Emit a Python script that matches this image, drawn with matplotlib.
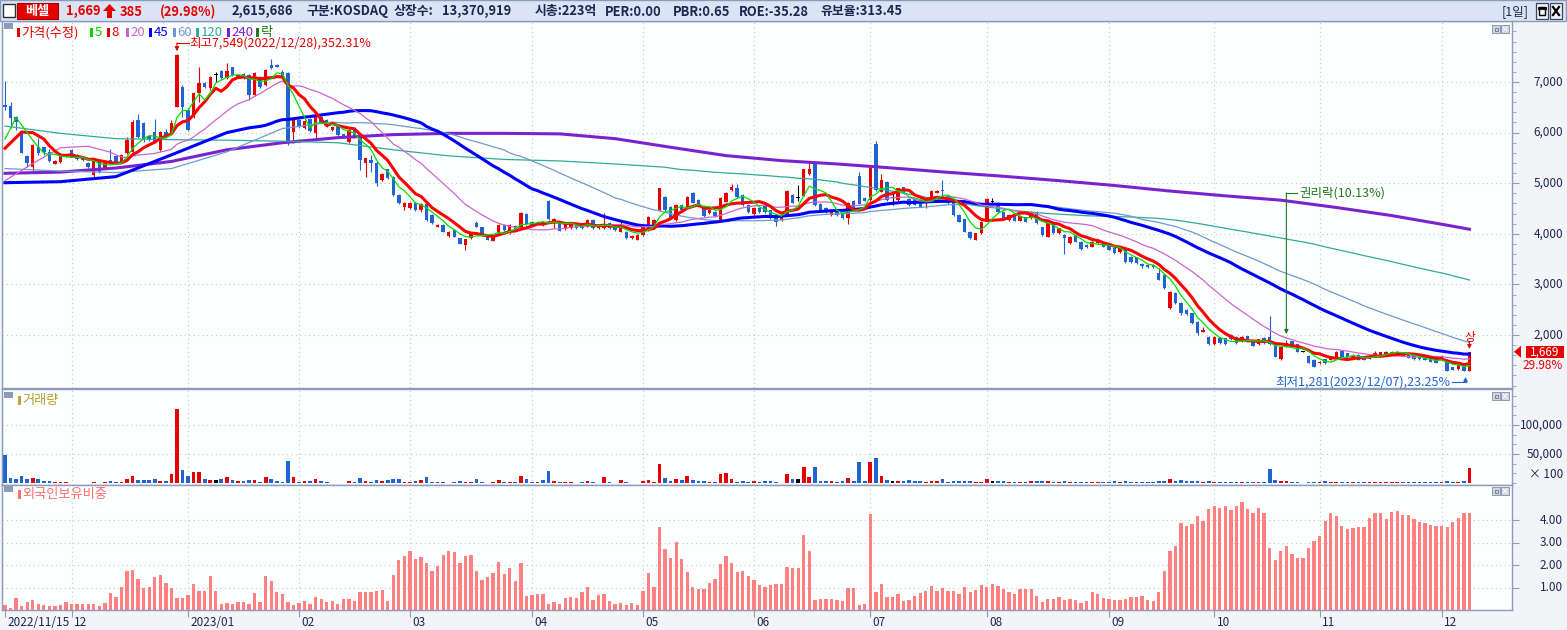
import numpy as np
import pandas as pd
import matplotlib
matplotlib.use('Agg')
import matplotlib.pyplot as plt
from matplotlib.patches import Rectangle, Polygon
from matplotlib.ticker import MultipleLocator
from matplotlib.transforms import blended_transform_factory as blend

plt.rcParams['font.family'] = ['Noto Sans CJK KR', 'DejaVu Sans']

W, H = 1567, 630
RED = '#e60000'
BLUE = '#1f64d2'
NAVY = '#1c2850'
FRAME = '#8a9cba'
GRID = '#c3c8d0'

# daily candles, 2022/11/15 .. 2023/12
OPEN = [
    6550, 6526, 6302, 6038, 5538, 5327, 5709, 5709, 5623, 5380,
    5426, 5525, 5656, 5557, 5492, 5406, 5162, 5426, 5294, 5459,
    5538, 5426, 5590, 5623, 6249, 6183, 5933, 6019, 5656, 6019,
    5986, 6513, 6908, 6447, 6315, 6776, 6974, 6875, 7140, 7224,
    7073, 7290, 7105, 7158, 7138, 6743, 7105, 6941, 7336, 7336,
    7204, 7171, 6019, 6249, 6085, 6262, 5999, 6315, 6249, 6052,
    6104, 5966, 5821, 6065, 5920, 5393, 5459, 5400, 5064, 5275,
    5130, 4767, 4537, 4504, 4616, 4471, 4590, 4372, 4142, 4175,
    3957, 4076, 3911, 3779, 3911, 4221, 4128, 3977, 3865, 4010,
    4175, 4010, 4155, 4109, 4392, 4240, 4207, 4240, 4649, 4230,
    4207, 4089, 4109, 4175, 4207, 4142, 4273, 4109, 4109, 4221,
    4142, 4043, 4043, 3911, 3878, 3977, 4076, 4142, 4471, 4734,
    4537, 4273, 4570, 4537, 4800, 4668, 4550, 4405, 4438, 4273,
    4636, 4866, 4899, 4767, 4570, 4392, 4504, 4550, 4471, 4326,
    4273, 4372, 4767, 4700, 4748, 5182, 5380, 4590, 4504, 4372,
    4471, 4405, 4306, 4655, 5149, 4715, 4668, 5775, 4833, 5031,
    4705, 4668, 4919, 4682, 4682, 4668, 4636, 4682, 4813, 4860,
    4748, 4682, 4372, 4286, 4043, 3878, 4010, 4273, 4636, 4590,
    4438, 4273, 4392, 4260, 4326, 4306, 4438, 4128, 3944, 4194,
    4010, 3977, 3812, 3977, 3845, 3779, 3746, 3812, 3825, 3779,
    3713, 3647, 3693, 3548, 3535, 3400, 3384, 3384, 3219, 3186,
    2528, 2824, 2639, 2495, 2429, 2264, 2066, 1968, 1823, 1948,
    1935, 2000, 1968, 1882, 1981, 1902, 1823, 1948, 1968, 1836,
    1526, 1770, 1875, 1823, 1671, 1586, 1507, 1441, 1520, 1507,
    1572, 1691, 1638, 1539, 1605, 1572, 1526, 1572, 1605, 1605,
    1605, 1605, 1658, 1618, 1605, 1586, 1586, 1539, 1520, 1520,
    1507, 1362, 1322, 1408, 1284,
]
HIGH = [
    7010, 6611, 6328, 6052, 5557, 5775, 5887, 5722, 5670, 5459,
    5604, 5570, 5670, 5570, 5500, 5426, 5470, 5440, 5406, 5670,
    5557, 5580, 5920, 6250, 6368, 6200, 5950, 6262, 6040, 6065,
    6250, 7549, 6950, 6480, 6800, 7303, 7000, 7120, 7204, 7240,
    7369, 7300, 7150, 7170, 7160, 7190, 7120, 7250, 7448, 7360,
    7240, 7190, 6300, 6270, 6250, 6280, 6340, 6330, 6260, 6130,
    6120, 5980, 6065, 6080, 5930, 5500, 5557, 5440, 5200, 5290,
    5150, 4780, 4620, 4620, 4636, 4610, 4610, 4390, 4190, 4190,
    4060, 4090, 3920, 3900, 4020, 4260, 4140, 3990, 3960, 4190,
    4190, 4190, 4170, 4430, 4410, 4250, 4250, 4250, 4660, 4320,
    4220, 4220, 4220, 4190, 4220, 4290, 4290, 4190, 4405, 4230,
    4155, 4240, 4060, 3970, 3990, 4190, 4350, 4290, 4910, 4750,
    4550, 4590, 4590, 4740, 4820, 4680, 4570, 4480, 4450, 4720,
    4820, 4990, 4990, 4780, 4590, 4520, 4520, 4560, 4480, 4340,
    4350, 4870, 4780, 4965, 5290, 5400, 5390, 4600, 4520, 4470,
    4480, 4420, 4620, 4670, 5230, 4730, 5310, 5830, 5180, 5050,
    4833, 4910, 4930, 4700, 4700, 4680, 4690, 4870, 4870, 5064,
    4760, 4700, 4390, 4300, 4060, 4020, 4250, 4701, 4701, 4620,
    4450, 4390, 4400, 4370, 4340, 4450, 4450, 4140, 4220, 4210,
    4120, 3990, 3960, 3990, 3860, 3790, 3860, 3880, 3840, 3790,
    3730, 3730, 3710, 3560, 3550, 3420, 3400, 3400, 3320, 3200,
    2870, 2840, 2650, 2510, 2440, 2280, 2165, 1980, 1980, 1960,
    1950, 2020, 1980, 1980, 1990, 1910, 1930, 1960, 2380, 1850,
    1790, 1900, 1890, 1830, 1675, 1600, 1520, 1490, 1530, 1590,
    1690, 1700, 1650, 1620, 1620, 1580, 1600, 1680, 1670, 1690,
    1680, 1690, 1670, 1630, 1620, 1600, 1600, 1550, 1530, 1600,
    1520, 1375, 1420, 1420, 1669,
]
LOW = [
    6450, 6084, 6052, 5590, 5327, 5228, 5557, 5557, 5426, 5370,
    5406, 5510, 5510, 5460, 5446, 5300, 5129, 5200, 5280, 5380,
    5393, 5410, 5570, 5600, 5900, 5820, 5840, 5800, 5640, 5900,
    5970, 6500, 6315, 6030, 6290, 6611, 6890, 6850, 7007, 7060,
    7060, 7120, 7090, 7060, 6644, 6730, 6890, 6920, 7250, 7290,
    7080, 5755, 5788, 6100, 6070, 6020, 5887, 6180, 6110, 6040,
    5930, 5890, 5800, 5900, 5261, 5129, 5228, 4940, 5040, 5080,
    4750, 4590, 4470, 4490, 4460, 4440, 4260, 4190, 4130, 4030,
    3930, 3930, 3790, 3680, 3900, 4130, 3960, 3870, 3850, 4000,
    4060, 4000, 4060, 4100, 4180, 4160, 4200, 4160, 4270, 4120,
    4050, 4080, 4100, 4100, 4100, 4130, 4100, 4100, 4100, 4100,
    4060, 4030, 3900, 3900, 3870, 3960, 4060, 4130, 4460, 4450,
    4290, 4260, 4460, 4520, 4600, 4520, 4340, 4390, 4340, 4260,
    4620, 4850, 4710, 4550, 4420, 4380, 4420, 4420, 4290, 4160,
    4260, 4360, 4600, 4640, 4740, 5170, 4550, 4460, 4420, 4360,
    4360, 4290, 4200, 4490, 4580, 4640, 4650, 4850, 4820, 4650,
    4570, 4650, 4790, 4550, 4560, 4520, 4504, 4670, 4800, 4680,
    4590, 4360, 4230, 4030, 3900, 3870, 4000, 4260, 4600, 4420,
    4290, 4260, 4250, 4250, 4230, 4290, 4190, 3960, 3930, 4000,
    4000, 3601, 3800, 3830, 3680, 3720, 3730, 3800, 3730, 3670,
    3610, 3630, 3430, 3430, 3400, 3330, 3320, 3320, 3080, 2900,
    2510, 2610, 2400, 2400, 2210, 2000, 2050, 1800, 1810, 1820,
    1810, 1900, 1820, 1870, 1900, 1780, 1810, 1820, 1810, 1560,
    1510, 1760, 1760, 1660, 1665, 1440, 1360, 1430, 1430, 1500,
    1560, 1560, 1550, 1530, 1500, 1500, 1520, 1560, 1600, 1600,
    1600, 1600, 1580, 1540, 1515, 1515, 1500, 1460, 1440, 1510,
    1290, 1300, 1300, 1281, 1281,
]
CLOSE = [
    6510, 6282, 6216, 5590, 5406, 5755, 5604, 5623, 5446, 5446,
    5557, 5557, 5525, 5472, 5459, 5314, 5459, 5228, 5393, 5406,
    5406, 5557, 5854, 6216, 5920, 5854, 5854, 5821, 6019, 5920,
    6183, 7534, 6513, 6052, 6776, 6974, 6908, 7105, 7140, 7073,
    7224, 7138, 7138, 7073, 6743, 7171, 6908, 7237, 7270, 7303,
    7105, 5788, 6282, 6117, 6236, 6038, 6328, 6197, 6131, 6117,
    5953, 5907, 6052, 5920, 5459, 5492, 5393, 5000, 5182, 5097,
    4767, 4603, 4603, 4603, 4471, 4590, 4273, 4207, 4175, 4043,
    4043, 3944, 3799, 3891, 4010, 4142, 3977, 3878, 3944, 4175,
    4076, 4175, 4076, 4418, 4194, 4175, 4240, 4175, 4286, 4290,
    4062, 4207, 4207, 4109, 4109, 4273, 4109, 4175, 4175, 4109,
    4076, 4142, 3911, 3957, 3977, 4175, 4339, 4273, 4899, 4471,
    4306, 4570, 4471, 4721, 4616, 4537, 4352, 4471, 4352, 4701,
    4800, 4919, 4721, 4570, 4438, 4504, 4438, 4438, 4306, 4240,
    4339, 4846, 4616, 4700, 5275, 5275, 4570, 4471, 4438, 4458,
    4372, 4306, 4603, 4504, 4590, 4655, 5294, 4866, 5064, 4668,
    4705, 4899, 4800, 4570, 4570, 4537, 4682, 4853, 4853, 4840,
    4603, 4372, 4240, 4043, 3911, 4010, 4240, 4682, 4636, 4438,
    4306, 4372, 4260, 4352, 4240, 4438, 4207, 3977, 4207, 4010,
    4109, 3911, 3944, 3845, 3694, 3733, 3845, 3865, 3746, 3680,
    3628, 3713, 3450, 3450, 3417, 3360, 3338, 3338, 3087, 2923,
    2857, 2626, 2429, 2416, 2231, 2034, 2099, 1823, 1968, 1836,
    1823, 1915, 1836, 1968, 1915, 1790, 1915, 1836, 1823, 1572,
    1770, 1836, 1770, 1671, 1671, 1454, 1375, 1474, 1441, 1572,
    1671, 1572, 1559, 1592, 1507, 1507, 1586, 1651, 1658, 1671,
    1658, 1671, 1592, 1552, 1526, 1526, 1507, 1474, 1454, 1586,
    1296, 1309, 1408, 1284, 1669,
]
# volume, in units of 100 shares
VOLUME = [
    47700, 9200, 7500, 11500, 6300, 9200, 7500, 2900, 2900, 1200,
    2300, 2300, 600, 600, 600, 600, 1200, 600, 1200, 4000,
    1200, 1200, 7500, 12700, 5800, 5800, 4600, 7500, 4000, 4000,
    16100, 128000, 21900, 12700, 19600, 19600, 7500, 5800, 5800, 7500,
    10900, 5800, 4000, 4000, 5800, 5800, 2300, 10900, 7500, 4000,
    2300, 38500, 10900, 2300, 4000, 4000, 7500, 4000, 2300, 600,
    600, 600, 4000, 2300, 9200, 4000, 2300, 5800, 4000, 5800,
    7500, 7500, 2300, 2300, 4000, 5800, 10900, 2300, 2300, 2300,
    600, 2300, 4000, 2300, 2300, 7500, 2300, 600, 2300, 5800,
    2300, 2300, 2300, 12700, 7500, 2300, 2300, 5800, 21300, 4000,
    2300, 2300, 2300, 600, 2300, 4000, 2300, 600, 10900, 2300,
    600, 5800, 2300, 600, 600, 4000, 5800, 2300, 33400, 9200,
    4000, 7500, 5800, 12700, 5800, 4000, 4000, 2300, 2300, 16100,
    17800, 7500, 2300, 4000, 1700, 2900, 1700, 2900, 2900, 1700,
    600, 16000, 7500, 7500, 28000, 11000, 28000, 4000, 4000, 2900,
    1200, 2900, 9200, 4000, 36800, 4000, 36800, 43700, 12700, 5800,
    2900, 2900, 4000, 5800, 2900, 2900, 1200, 2900, 2900, 7500,
    1200, 4000, 2900, 4000, 2900, 1200, 1200, 7500, 2900, 2900,
    2900, 1200, 1200, 1200, 1200, 2900, 4000, 2900, 2900, 1200,
    1200, 2900, 1200, 1200, 1200, 1200, 1200, 1200, 1200, 1200,
    2900, 1200, 2900, 1200, 1200, 1200, 1200, 1200, 4000, 4000,
    7500, 4000, 5800, 2900, 2900, 4000, 1200, 4000, 2300, 1200,
    1200, 2300, 1200, 1200, 1200, 1200, 1200, 1200, 24700, 5800,
    4000, 2900, 1200, 1200, 300, 2300, 1200, 1200, 4000, 1200,
    2300, 1200, 1200, 1200, 1200, 1200, 1200, 1200, 1200, 1200,
    1200, 1200, 1200, 1200, 1200, 1200, 1200, 1200, 1200, 1200,
    4000, 2300, 2300, 4000, 26500,
]
# foreign ownership, %
FOREIGN = [
    0.22, 0.10, 0.55, 0.19, 0.36, 0.45, 0.27, 0.22, 0.19, 0.19,
    0.22, 0.36, 0.27, 0.27, 0.27, 0.27, 0.27, 0.19, 0.33, 0.76,
    0.59, 1.03, 1.75, 1.78, 1.38, 1.00, 1.03, 1.47, 1.56, 1.20,
    1.00, 0.53, 0.53, 0.67, 1.16, 0.85, 0.85, 1.52, 0.85, 0.27,
    0.31, 0.27, 0.36, 0.36, 0.27, 0.76, 0.36, 1.52, 1.29, 0.80,
    0.71, 0.36, 0.22, 0.31, 0.40, 0.27, 0.58, 0.49, 0.36, 0.40,
    0.27, 0.49, 0.49, 0.40, 0.80, 0.80, 0.80, 0.85, 0.89, 0.40,
    1.56, 2.23, 2.41, 2.63, 2.27, 2.36, 2.10, 1.74, 1.96, 2.45,
    2.63, 2.59, 2.10, 2.41, 2.45, 1.74, 1.34, 1.47, 1.65, 2.14,
    1.60, 1.87, 1.29, 2.10, 0.62, 0.67, 0.71, 0.71, 0.27, 0.36,
    0.27, 0.53, 0.58, 0.53, 0.80, 1.03, 0.45, 0.67, 0.71, 0.40,
    0.27, 0.31, 0.22, 0.31, 0.22, 0.85, 1.65, 1.03, 3.70, 2.72,
    2.32, 3.03, 2.27, 1.69, 1.03, 0.94, 0.94, 1.20, 1.38, 2.05,
    2.41, 2.10, 1.69, 1.74, 1.52, 1.34, 1.11, 1.03, 1.11, 1.16,
    1.16, 1.92, 1.87, 1.87, 3.34, 2.63, 0.45, 0.49, 0.49, 0.49,
    0.45, 0.40, 0.98, 0.98, 0.22, 0.27, 4.28, 0.80, 1.16, 0.58,
    0.58, 0.71, 0.40, 0.45, 0.62, 0.76, 0.85, 1.07, 0.85, 0.98,
    0.85, 0.85, 0.71, 1.03, 0.80, 0.89, 1.11, 1.03, 1.16, 1.07,
    0.94, 0.80, 0.71, 0.94, 0.94, 0.94, 0.62, 0.36, 0.49, 0.49,
    0.58, 0.45, 0.49, 0.45, 0.31, 0.40, 0.80, 0.71, 0.52, 0.49,
    0.45, 0.45, 0.49, 0.59, 0.59, 0.62, 0.45, 0.40, 0.80, 1.75,
    2.64, 2.85, 3.89, 3.74, 3.83, 4.19, 3.98, 4.50, 4.65, 4.56,
    4.64, 4.46, 4.65, 4.81, 4.50, 4.34, 4.55, 4.34, 2.78, 2.23,
    2.64, 2.85, 2.50, 2.33, 2.33, 2.78, 3.09, 3.31, 3.98, 4.34,
    4.21, 3.74, 3.63, 3.67, 3.71, 3.71, 4.12, 4.34, 4.34, 4.07,
    4.38, 4.43, 4.25, 4.25, 4.07, 3.92, 3.89, 3.80, 3.74, 3.74,
    3.71, 3.94, 4.12, 4.34, 4.34,
]

# moving-average values before enough visible closes exist
MA5_HEAD = ([0, 2], [5870, 6300])
MA8_HEAD = ([0, 3, 5], [5690, 6010, 6000])
MA20_HEAD = ([0, 5, 10, 15], [5050, 5390, 5700, 5730])
MA45_HEAD = ([0, 10, 20, 30, 40], [5010, 5030, 5130, 5560, 6000])
MA60_HEAD = ([0, 10, 20, 30, 40, 50], [5290, 5240, 5210, 5290, 5620, 6080])
MA120_HEAD = (list(range(0, 111, 10)),
              [6130, 5985, 5880, 5860, 5850, 5830, 5800, 5660, 5540, 5470, 5440, 5380])
MA240_IDX = list(range(0, 261, 10)) + [264]
MA240 = [5195, 5220, 5300, 5430, 5660, 5800, 5900, 5960, 5985, 5985,
         5975, 5880, 5710, 5545, 5446, 5380, 5300, 5215, 5137, 5050,
         4955, 4845, 4750, 4665, 4520, 4360, 4170, 4090]

MONTH_IDX = [0, 12, 33, 53, 73, 95, 115, 135, 156, 177, 199, 218, 237, 259]
MONTH_LBL = ['2022/11/15', '12', '2023/01', '02', '03', '04', '05', '06',
             '07', '08', '09', '10', '11', '12']

PRICE_TICKS = [2000, 3000, 4000, 5000, 6000, 7000]
VOL_TICKS = [50000, 100000]
FOR_TICKS = [1, 2, 3, 4]

N = len(CLOSE)
idx = np.arange(N)
o, h, l, c = (np.array(a, dtype=float) for a in (OPEN, HIGH, LOW, CLOSE))
colors = np.where(c > o, RED, np.where(c < o, BLUE, 'black'))


def moving_avg(n, head):
    s = pd.Series(CLOSE, dtype=float).rolling(n).mean()
    xs = list(head[0]) + list(range(n - 1, N))
    ys = list(head[1]) + list(s.iloc[n - 1:])
    return xs, ys


def px_axes(x0, y0, x1, y1):
    return fig.add_axes([x0 / W, 1 - y1 / H, (x1 - x0) / W, (y1 - y0) / H])


def style(ax, ylo, yhi, ticks, minor=None):
    ax.set_facecolor('#fdfefe')
    ax.set_xlim(-0.54, 271.68)
    ax.set_ylim(ylo, yhi)
    for s in ax.spines.values():
        s.set_color(FRAME)
        s.set_linewidth(1)
    ax.yaxis.tick_right()
    ax.set_yticks(ticks)
    if minor:
        ax.yaxis.set_minor_locator(MultipleLocator(minor))
    ax.tick_params(axis='y', which='both', colors=FRAME, labelright=False, direction='out')
    ax.tick_params(axis='y', which='major', length=5)
    ax.tick_params(axis='y', which='minor', length=3)
    ax.tick_params(axis='x', length=0, labelbottom=False)
    for m in MONTH_IDX[1:]:
        ax.axvline(m, color=GRID, lw=0.8, ls=(0, (1, 3)), zorder=0)
    for t in ticks:
        ax.axhline(t, color=GRID, lw=0.8, ls=(0, (1, 3)), zorder=0)


def right_labels(ax, vals, texts):
    tr = blend(ov.transData, ax.transData)
    for v, t in zip(vals, texts):
        ax.text(1563, v, t, transform=tr, ha='right', va='center', fontsize=8.5, color=NAVY)


fig = plt.figure(figsize=(W / 100, H / 100), dpi=100, facecolor='#f2f4f7')
ov = fig.add_axes([0, 0, 1, 1], zorder=10)
ov.set_xlim(0, W)
ov.set_ylim(H, 0)
ov.axis('off')

# ---- price panel
ax_p = px_axes(2, 21, 1512, 388)
style(ax_p, 952.6, 8205.5, PRICE_TICKS, 200)
ax_p.vlines(idx, l, h, colors=colors, lw=0.8, zorder=2)
ax_p.bar(idx, np.maximum(np.abs(c - o), 18), bottom=np.minimum(o, c), width=0.62,
         color=colors, lw=0, zorder=2)

x120, y120 = moving_avg(120, MA120_HEAD)
x60, y60 = moving_avg(60, MA60_HEAD)
x45, y45 = moving_avg(45, MA45_HEAD)
x20, y20 = moving_avg(20, MA20_HEAD)
x8, y8 = moving_avg(8, MA8_HEAD)
x5, y5 = moving_avg(5, MA5_HEAD)
ax_p.plot(MA240_IDX, MA240, color='#7b22d0', lw=2.2, zorder=3)
ax_p.plot(x120, y120, color='#30aa98', lw=0.9, zorder=3)
ax_p.plot(x60, y60, color='#6f9ad0', lw=0.9, zorder=3)
ax_p.plot(x45, y45, color='#0000ff', lw=2.2, zorder=3)
ax_p.plot(x20, y20, color='#cc66cc', lw=0.9, zorder=3)
ax_p.plot(x8, y8, color='#ff0000', lw=2.2, zorder=3)
ax_p.plot(x5, y5, color='#00e000', lw=0.9, zorder=3)
right_labels(ax_p, PRICE_TICKS, [f'{v:,}' for v in PRICE_TICKS])

arrow = dict(arrowstyle='-|>', lw=0.8, mutation_scale=6, shrinkA=0, shrinkB=0)
# highest
hi = int(np.argmax(h))
ty = h[hi] + 222
ax_p.plot([hi, hi + 2.1], [ty, ty], color=RED, lw=0.8, zorder=4)
ax_p.annotate('', xy=(hi, h[hi] + 60), xytext=(hi, ty), arrowprops=dict(arrow, color=RED))
ax_p.text(hi + 2.3, ty, '최고7,549(2022/12/28),352.31%', color=RED, fontsize=9,
          ha='left', va='center', zorder=4)
# ex-rights
ex = 231
ey = 4810
ax_p.plot([ex, ex + 2.0], [ey, ey], color='#1e7a1e', lw=0.8, zorder=4)
ax_p.annotate('', xy=(ex, h[ex] + 120), xytext=(ex, ey), arrowprops=dict(arrow, color='#1e7a1e'))
ax_p.text(ex + 2.3, ey, '권리락(10.13%)', color='#1e7a1e', fontsize=9, ha='left', va='center')
# lowest
lo = int(np.argmin(l))
ly = 1078
ax_p.plot([lo - 2.2, lo + 0.3], [ly, ly], color=BLUE, lw=0.8, zorder=4)
ax_p.annotate('', xy=(lo + 0.3, l[lo] - 110), xytext=(lo + 0.3, ly), arrowprops=dict(arrow, color=BLUE))
ax_p.text(lo - 2.4, ly, '최저1,281(2023/12/07),23.25%', color=BLUE, fontsize=9,
          ha='right', va='center')
# upper limit
last = N - 1
ax_p.text(last, h[last] + 290, '상', color=RED, fontsize=8.5, ha='center', va='center')
ax_p.annotate('', xy=(last, h[last] + 55), xytext=(last, h[last] + 195), arrowprops=dict(arrow, color=RED))

# current price tag on the axis
trp = blend(ov.transData, ax_p.transData)
ax_p.add_patch(Rectangle((1526, c[-1] - 115), 38, 230, transform=trp, fc=RED, ec='none', clip_on=False))
ax_p.add_patch(Polygon([(1514, c[-1]), (1521, c[-1] + 120), (1521, c[-1] - 120)], closed=True,
                       transform=trp, fc=RED, ec='none', clip_on=False))
ax_p.text(1545, c[-1], f'{int(c[-1]):,}', transform=trp, color='white', fontsize=8.5,
          ha='center', va='center')
ax_p.text(1563, c[-1] - 265, '29.98%', transform=trp, color=RED, fontsize=8.5,
          ha='right', va='center')

# ---- volume panel
vpp = 50000 / 29.0
ax_v = px_axes(2, 389, 1512, 485)
style(ax_v, -(485 - 483) * vpp, (483 - 389) * vpp, VOL_TICKS, 50000 / 3)
ax_v.bar(idx, VOLUME, width=0.66, color=colors, lw=0, zorder=2)
right_labels(ax_v, VOL_TICKS, [f'{v:,}' for v in VOL_TICKS])
ax_v.text(1563, 8 * vpp, '× 100', transform=blend(ov.transData, ax_v.transData),
          ha='right', va='center', fontsize=8.5, color=NAVY)

# ---- foreign ownership panel
ax_f = px_axes(2, 485, 1512, 610)
style(ax_f, 0, 125 / 22.4, FOR_TICKS)
ax_f.bar(idx, FOREIGN, width=0.6, color='#ff8080', lw=0, zorder=2)
right_labels(ax_f, FOR_TICKS, [f'{v:.2f}' for v in FOR_TICKS])
ax_f.set_xticks(MONTH_IDX)
ax_f.tick_params(axis='x', length=5, direction='out', colors=FRAME, labelbottom=False)
trx = blend(ax_f.transData, ov.transData)
for m, lab in zip(MONTH_IDX, MONTH_LBL):
    ax_f.text(m + 0.4, 622, lab, transform=trx, ha='left', va='center', fontsize=8.5, color=NAVY)

# ---- panel titles
for y0 in (23, 392, 486):
    ov.add_patch(Rectangle((4, y0), 9, 6, fc='#8b9dbb', ec='none'))
legend = [('가격(수정)', 17, RED), ('5', 90, '#00d000'), ('8', 107, RED),
          ('20', 126, '#cc66cc'), ('45', 149, '#0000ff'), ('60', 173, '#6f9ad0'),
          ('120', 196, '#30aa98'), ('240', 227, '#7b22d0'), ('락', 256, '#1e7a1e')]
for txt, x0, col in legend:
    ov.add_patch(Rectangle((x0, 28), 3, 9, fc=col, ec='none'))
    ov.text(x0 + 4.5, 32.5, txt, color=col, fontsize=9.5, ha='left', va='center')
ov.add_patch(Rectangle((18, 396), 3, 9, fc='#b8a832', ec='none'))
ov.text(22.5, 400.5, '거래량', color='#b0a030', fontsize=9.5, ha='left', va='center')
ov.add_patch(Rectangle((18, 490), 3, 9, fc='#ff7070', ec='none'))
ov.text(22.5, 494.5, '외국인보유비중', color='#ff7070', fontsize=9.5, ha='left', va='center')

# small window buttons in each panel
for y0 in (25, 392, 487):
    ov.add_patch(Rectangle((1492, y0), 8, 8, fc='#cfd6e2', ec='#7d8ca6', lw=0.6))
    ov.add_patch(Rectangle((1494.5, y0 + 2.5), 3, 3, fc='none', ec='#6a7890', lw=0.6))
    ov.add_patch(Rectangle((1501, y0), 8, 8, fc='#cfd6e2', ec='#7d8ca6', lw=0.6))
    ov.plot([1503, 1507], [y0 + 2, y0 + 6], color='#f4f6fa', lw=0.9)
    ov.plot([1503, 1507], [y0 + 6, y0 + 2], color='#f4f6fa', lw=0.9)

# ---- header bar
ov.add_patch(Rectangle((0, 0), W - 1, 21, fc='#dae4f5', ec=FRAME, lw=1))
ov.add_patch(Rectangle((3, 4), 12, 13, fc='white', ec='#303030', lw=1))
ov.add_patch(Rectangle((17, 3), 41, 16, fc='#e40000', ec='#a00000', lw=0.8))
ov.text(37.5, 11.5, '베셀', color='white', fontsize=9.5, fontweight='bold', ha='center', va='center')
ov.add_patch(Polygon([(103, 11), (109.5, 4), (116, 11), (112, 11), (112, 18), (107, 18), (107, 11)],
                     closed=True, fc=RED, ec='none'))
header = [('1,669', 66, RED), ('385', 120, RED), ('(29.98%)', 160, RED),
          ('2,615,686', 232, NAVY), ('구분:KOSDAQ', 306, NAVY), ('상장수:', 394, NAVY),
          ('13,370,919', 442, NAVY), ('시총:223억', 535, NAVY), ('PER:0.00', 605, NAVY),
          ('PBR:0.65', 673, NAVY), ('ROE:-35.28', 739, NAVY), ('유보율:313.45', 820, NAVY)]
for txt, x0, col in header:
    ov.text(x0, 11.5, txt, color=col, fontsize=9.3, fontweight='bold', ha='left', va='center')
ov.text(1502, 11.5, '[1일]', color=NAVY, fontsize=9, ha='left', va='center')
for x0 in (1536, 1550):
    ov.add_patch(Rectangle((x0, 3), 12, 16, fc='#eef1f6', ec='#3a4660', lw=0.9))
ov.add_patch(Rectangle((1539, 7), 6, 8, fc='none', ec='black', lw=1))
ov.plot([1539, 1545], [8, 8], color='black', lw=2)
ov.plot([1553, 1559], [7, 15], color='black', lw=1.6)
ov.plot([1553, 1559], [15, 7], color='black', lw=1.6)

fig.savefig('out.png', dpi=100, facecolor=fig.get_facecolor())
